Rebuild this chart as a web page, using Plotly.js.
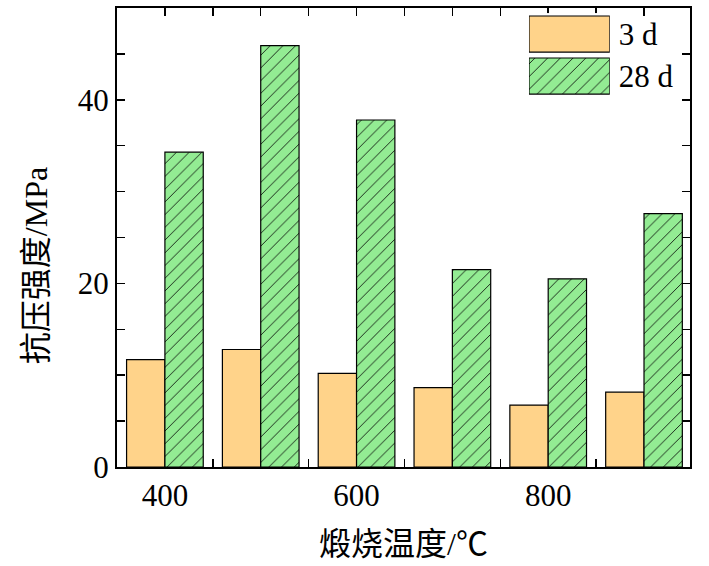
<!DOCTYPE html>
<html>
<head>
<meta charset="utf-8">
<script src="https://cdn.plot.ly/plotly-3.0.1.min.js"></script>
<style>
  body { margin: 0; background: #fff; }
  #chart { width: 709px; height: 566px; }
</style>
</head>
<body>
<div id="chart"></div>
<script>
const temps = [400, 500, 600, 700, 800, 900];
const strength3d = [11.7, 12.8, 10.2, 8.65, 6.75, 8.15];
const strength28d = [34.3, 45.9, 37.8, 21.5, 20.5, 27.6];
const seriesNames = ['3 d', '28 d'];
const xTickVals = [400, 450, 500, 550, 600, 650, 700, 750, 800, 850, 900];
const xTickText = ['400', '', '', '', '600', '', '', '', '800', '', ''];
const yTickVals = [0, 5, 10, 15, 20, 25, 30, 35, 40, 45, 50];
const yTickText = ['0', '', '', '', '20', '', '', '', '40', '', ''];
const xTitle = '煅烧温度/℃';
const yTitle = '抗压强度/MPa';

const orange = '#FFD38A';
const green = '#93EC93';
const numFont = { family: 'Liberation Serif, serif', size: 31, color: '#000' };
const titleFont = { family: 'Liberation Serif, Noto Sans CJK SC, serif', size: 32, color: '#000' };
const outline = { color: '#000', width: 1.2 };
const hatch = { shape: '/', fgcolor: '#000', bgcolor: green, fgopacity: 1, size: 9, solidity: 0.09 };

const traces = [
  {
    x: temps, y: strength3d, name: seriesNames[0], type: 'bar',
    marker: { color: orange, line: outline },
    showlegend: false
  },
  {
    x: temps, y: strength28d, name: seriesNames[1], type: 'bar',
    marker: { color: green, line: outline, pattern: hatch },
    showlegend: false
  },
  // legend keys: one bar each on a small hidden axis in the top-right corner
  {
    x: [1], y: [seriesNames[0]], type: 'bar', orientation: 'h',
    xaxis: 'x2', yaxis: 'y2', width: 0.86, offset: -0.43,
    marker: { color: orange, line: outline },
    showlegend: false, hoverinfo: 'skip'
  },
  {
    x: [1], y: [seriesNames[1]], type: 'bar', orientation: 'h',
    xaxis: 'x2', yaxis: 'y2', width: 0.86, offset: -0.43,
    marker: { color: green, line: outline, pattern: hatch },
    showlegend: false, hoverinfo: 'skip'
  }
];

const layout = {
  width: 709, height: 566,
  margin: { l: 117, r: 19, t: 8, b: 99 },
  paper_bgcolor: '#fff', plot_bgcolor: '#fff',
  barmode: 'group', bargap: 0.2, bargroupgap: 0,
  showlegend: false,
  xaxis: {
    range: [350, 948],
    tickmode: 'array', tickvals: xTickVals, ticktext: xTickText,
    ticks: 'inside', ticklen: 8, tickwidth: 1.5, tickcolor: '#000',
    showline: true, linecolor: '#000', linewidth: 2, mirror: 'ticks',
    showgrid: false, zeroline: false, layer: 'below traces',
    tickfont: numFont,
    title: { text: xTitle, font: titleFont, standoff: 20 }
  },
  yaxis: {
    range: [0, 50],
    tickmode: 'array', tickvals: yTickVals, ticktext: yTickText,
    ticks: 'inside', ticklen: 8, tickwidth: 1.5, tickcolor: '#000',
    showline: true, linecolor: '#000', linewidth: 2, mirror: 'ticks',
    showgrid: false, zeroline: false,
    tickfont: numFont
  },
  xaxis2: {
    domain: [0.719, 0.86], range: [0, 1], anchor: 'y2',
    visible: false, fixedrange: true
  },
  yaxis2: {
    domain: [0.806, 0.989], anchor: 'x2', side: 'right',
    type: 'category', categoryorder: 'array', categoryarray: seriesNames.slice().reverse(),
    showgrid: false, zeroline: false, showline: false, ticks: '',
    tickfont: numFont, ticklabelstandoff: 8, fixedrange: true
  },
  annotations: [{
    text: yTitle, textangle: -90, showarrow: false,
    xref: 'paper', yref: 'paper', x: -0.141, y: 0.438,
    xanchor: 'center', yanchor: 'middle', font: titleFont
  }]
};

Plotly.newPlot('chart', traces, layout, { displayModeBar: false, staticPlot: true });
</script>
</body>
</html>
